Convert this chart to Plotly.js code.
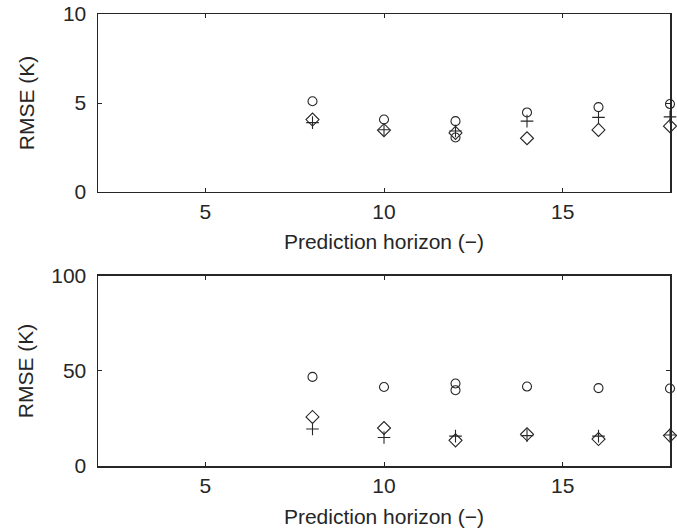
<!DOCTYPE html>
<html>
<head>
<meta charset="utf-8">
<script src="https://cdn.plot.ly/plotly-3.0.1.min.js"></script>
<style>html,body{margin:0;padding:0;background:#fff;}#chart{width:677px;height:528px;}</style>
</head>
<body>
<div id="chart"></div>
<script>
// Top panel (RMSE, K, range 0-10)
const xCircleTop = [8, 10, 12, 12, 14, 16, 18];
const yCircleTop = [5.10, 4.07, 3.98, 3.06, 4.47, 4.77, 4.94];
const xPlusTop = [8, 10, 12, 14, 16, 18];
const yPlusTop = [3.90, 3.50, 3.43, 3.98, 4.19, 4.22];
const xDiamondTop = [8, 10, 12, 14, 16, 18];
const yDiamondTop = [4.07, 3.47, 3.32, 3.02, 3.49, 3.70];

// Bottom panel (RMSE, K, range 0-100)
const xCircleBot = [8, 10, 12, 12, 14, 16, 18];
const yCircleBot = [46.9, 41.6, 43.4, 39.9, 41.8, 41.0, 40.8];
const xPlusBot = [8, 10, 12, 14, 16, 18];
const yPlusBot = [19.5, 15.0, 15.7, 16.0, 15.7, 16.3];
const xDiamondBot = [8, 10, 12, 14, 16, 18];
const yDiamondBot = [25.8, 20.0, 13.5, 16.7, 14.2, 16.0];

const xTickVals = [5, 10, 15];
const yTickTop = [0, 5, 10];
const yTickBot = [0, 50, 100];
const xTitle = 'Prediction horizon (−)';
const yTitle = 'RMSE (K)';

const ink = '#262626';
function tr(x, y, sym, xa, ya) {
  return {x: x, y: y, xaxis: xa, yaxis: ya, type: 'scatter', mode: 'markers',
    cliponaxis: false, showlegend: false,
    marker: {symbol: sym, size: sym === 'diamond-open' ? 10 : 9, color: ink, line: {width: 1.1, color: ink}}};
}
const data = [
  tr(xCircleTop, yCircleTop, 'circle-open', 'x', 'y'),
  tr(xPlusTop, yPlusTop, 'cross-thin-open', 'x', 'y'),
  tr(xDiamondTop, yDiamondTop, 'diamond-open', 'x', 'y'),
  tr(xCircleBot, yCircleBot, 'circle-open', 'x2', 'y2'),
  tr(xPlusBot, yPlusBot, 'cross-thin-open', 'x2', 'y2'),
  tr(xDiamondBot, yDiamondBot, 'diamond-open', 'x2', 'y2')
];
const font = {family: 'Liberation Sans, Arial, sans-serif', size: 21, color: ink};
function xax(anchor, standoff) {
  return {domain: [0, 1], anchor: anchor, range: [2, 18], tickvals: xTickVals,
    ticks: 'inside', ticklen: 4, tickwidth: 1, tickcolor: ink, mirror: 'ticks',
    showline: true, linecolor: ink, linewidth: 1.5, showgrid: false, zeroline: false,
    tickfont: font, title: {text: xTitle, font: font, standoff: standoff}};
}
function yax(anchor, dom, rng, tv, standoff) {
  return {domain: dom, anchor: anchor, range: rng, tickvals: tv,
    ticks: 'inside', ticklen: 4, tickwidth: 1, tickcolor: ink, mirror: 'ticks',
    showline: true, linecolor: ink, linewidth: 1.5, showgrid: false, zeroline: false,
    tickfont: font, ticklabelstandoff: 6, title: {text: yTitle, font: font, standoff: standoff}};
}
const layout = {
  width: 677, height: 528,
  margin: {l: 98, r: 7, t: 14, b: 62},
  paper_bgcolor: '#fff', plot_bgcolor: '#fff',
  font: font,
  xaxis: xax('y', 12), yaxis: yax('x', [0.6062, 1], [0, 10], yTickTop, 22),
  xaxis2: xax('y2', 13), yaxis2: yax('x2', [0, 0.4204], [0, 100], yTickBot, 12)
};
Plotly.newPlot('chart', data, layout, {displayModeBar: false, staticPlot: true});
</script>
</body>
</html>
